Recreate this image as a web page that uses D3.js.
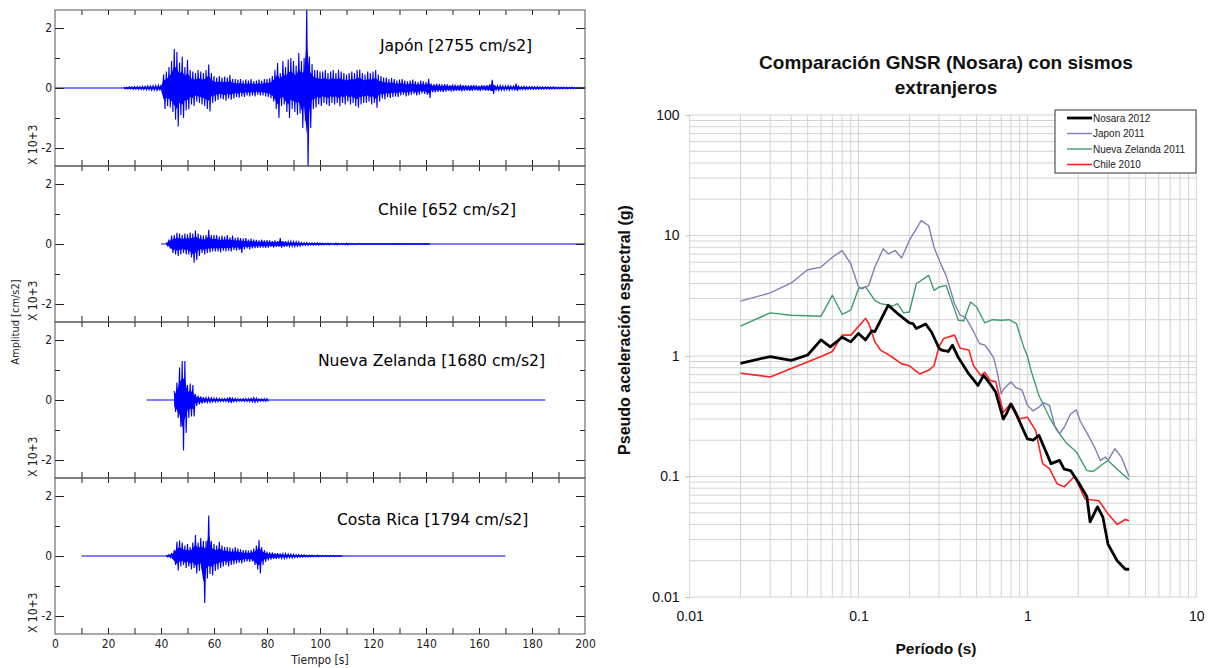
<!DOCTYPE html>
<html>
<head>
<meta charset="utf-8">
<script src="https://cdn.jsdelivr.net/npm/d3@7"></script>
<style>
  body { margin: 0; background: #fff; }
  svg { display: block; }
</style>
</head>
<body>
<svg id="chart" width="1208" height="668"></svg>
<script>
//----------------------------DATA------------------------------//
// Seismograms: envelope, one value per second (x 10^3 cm/s2)
const japonLine = [0, 200];
const japonT0 = 26;
const japonUp = [
  0.03,0.03,0.04,0.04,0.05,0.05,0.05,0.06,0.06,0.07,0.07,0.08,0.08,0.09,0.10,
  0.45,0.55,0.70,0.90,1.30,1.20,0.85,1.05,0.70,0.94,0.60,0.55,0.50,0.60,0.55,0.50,0.60,0.78,0.50,0.40,
  0.35,0.40,0.35,0.38,0.35,0.44,0.30,0.30,0.28,0.30,0.25,0.28,0.25,0.30,0.22,0.25,0.28,0.24,0.30,0.30,
  0.32,0.40,0.60,0.83,0.50,0.90,0.70,0.95,1.00,0.90,0.75,1.17,0.90,1.00,2.76,1.05,0.80,0.60,0.60,0.55,
  0.55,0.60,0.50,0.55,0.60,0.50,0.61,0.55,0.50,0.45,0.50,0.55,0.50,0.60,0.62,0.50,0.45,0.55,0.50,0.55,0.60,0.45,
  0.40,0.35,0.35,0.30,0.33,0.30,0.25,0.28,0.30,0.25,0.22,0.25,0.28,0.22,0.20,0.25,0.22,0.20,
  0.31,
  0.15,0.13,0.15,0.14,0.12,0.13,0.12,0.10,0.12,0.11,0.10,0.12,0.10,0.10,0.09,0.10,0.10,0.09,0.08,0.10,0.09,0.10,0.12,
  0.27,
  0.10,0.08,0.08,0.07,0.07,0.08,0.07,0.06,0.15,
  0.06,0.05,0.06,0.05,0.05,0.05,0.04,0.05,0.04,0.04,0.04,0.04,0.03,0.04,0.03,0.03,0.03,0.03,0.03,0.02,0.03,0.02,0.02,0.02,0.02,0.02
];
const japonLo = [
  0.03,0.03,0.03,0.04,0.04,0.05,0.05,0.05,0.06,0.06,0.07,0.07,0.08,0.08,0.10,
  0.70,0.60,0.65,0.80,1.05,1.28,0.90,1.00,0.75,0.72,0.55,0.60,0.45,0.50,0.55,0.60,0.70,0.78,0.50,0.45,
  0.40,0.35,0.38,0.42,0.35,0.39,0.35,0.30,0.32,0.28,0.30,0.25,0.28,0.25,0.28,0.22,0.25,0.25,0.28,0.30,
  0.35,0.45,0.70,1.00,0.60,0.55,0.80,1.00,0.70,0.80,0.90,0.85,1.33,1.10,2.76,1.33,0.70,0.65,0.55,0.60,
  0.50,0.55,0.60,0.50,0.55,0.50,0.61,0.50,0.55,0.45,0.55,0.50,0.60,0.66,0.55,0.50,0.50,0.45,0.55,0.50,0.66,0.45,
  0.35,0.38,0.30,0.33,0.30,0.28,0.30,0.25,0.22,0.28,0.25,0.22,0.20,0.25,0.22,0.18,0.20,0.22,
  0.33,
  0.14,0.15,0.13,0.12,0.14,0.12,0.10,0.12,0.11,0.10,0.10,0.11,0.10,0.09,0.10,0.10,0.08,0.09,0.10,0.08,0.09,0.10,0.10,
  0.20,
  0.09,0.08,0.07,0.07,0.06,0.07,0.06,0.06,0.10,
  0.05,0.05,0.05,0.05,0.04,0.05,0.04,0.04,0.04,0.04,0.03,0.04,0.03,0.03,0.03,0.03,0.03,0.02,0.03,0.02,0.02,0.02,0.02,0.02,0.02,0.02
];

const chileLine = [40, 200];
const chileT0 = 42;
const chileUp = [
  0.05,0.15,0.28,0.30,0.37,0.35,0.30,0.35,0.32,0.38,0.35,0.45,0.35,0.30,0.28,0.30,0.47,0.30,0.30,
  0.30,0.25,0.28,0.25,0.30,0.22,0.28,0.20,0.22,0.20,0.18,0.20,0.15,0.18,0.15,
  0.14,0.12,0.15,0.12,0.13,0.12,0.10,0.12,0.10,0.20,0.10,0.10,0.08,0.09,0.08,0.08,0.07,
  0.05,0.04,0.05,0.03,0.04,0.03,0.04,0.03,0.03,0.02,0.03,0.02,0.02,0.03,0.02,0.02,0.02,0.03,0.02,0.02,0.02,0.01,0.02,0.02,0.01,0.01,0.02,0.01,0.01,0.01,0.01,0.01,0.01,
  0.01,0.01,0.01,0.01,0.01,0.01,0.01,0.01,0.01,0.01,0.01,0.01,0.01,0.01,0.01,0.01
];
const chileLo = [
  0.05,0.15,0.30,0.35,0.40,0.35,0.30,0.35,0.35,0.45,0.62,0.53,0.40,0.30,0.35,0.30,0.28,0.25,0.25,
  0.25,0.28,0.22,0.25,0.22,0.25,0.20,0.22,0.20,0.30,0.18,0.15,0.18,0.15,0.14,
  0.13,0.12,0.12,0.13,0.12,0.10,0.12,0.10,0.10,0.12,0.10,0.09,0.08,0.08,0.08,0.07,0.07,
  0.05,0.04,0.05,0.03,0.04,0.03,0.04,0.03,0.03,0.02,0.03,0.02,0.02,0.03,0.02,0.02,0.02,0.03,0.02,0.02,0.02,0.01,0.02,0.02,0.01,0.01,0.02,0.01,0.01,0.01,0.01,0.01,0.01,
  0.01,0.01,0.01,0.01,0.01,0.01,0.01,0.01,0.01,0.01,0.01,0.01,0.01,0.01,0.01,0.01
];

const zelandaLine = [34.6, 185];
const zelandaT0 = 45;
const zelandaUp = [
  0.30,0.58,1.08,1.30,1.30,0.50,0.55,0.50,0.20,0.15,0.12,0.10,
  0.08,0.08,0.07,0.06,0.06,0.05,0.05,0.05,0.06,0.10,0.06,0.05,0.04,0.04,0.05,0.05,0.05,0.06,0.08,0.06,0.04,0.04,0.05,0.05
];
const zelandaLo = [
  0.40,0.60,0.90,1.68,1.10,0.60,0.55,0.55,0.20,0.15,0.12,0.10,
  0.08,0.08,0.07,0.06,0.06,0.05,0.05,0.05,0.06,0.10,0.06,0.05,0.04,0.04,0.05,0.05,0.05,0.06,0.08,0.06,0.04,0.04,0.05,0.05
];

const costaLine = [10, 170];
const costaT0 = 42;
const costaUp = [
  0.03,0.05,0.10,0.20,0.47,0.52,0.45,0.35,0.40,0.30,0.45,0.70,0.45,0.60,0.50,0.50,1.35,0.50,0.40,0.35,0.47,
  0.35,0.30,0.30,0.28,0.25,0.30,0.25,0.22,0.20,0.20,0.18,0.20,
  0.25,0.35,0.53,0.30,0.20,0.15,
  0.12,0.12,0.10,0.10,0.09,0.08,0.08,0.07,0.06,0.06,0.05,0.05,0.04,0.04,0.03,
  0.03,0.03,0.02,0.03,0.02,0.02,0.02,0.02,0.01,0.02,0.01,0.01,0.01
];
const costaLo = [
  0.03,0.05,0.10,0.30,0.48,0.35,0.30,0.40,0.35,0.45,0.40,0.58,0.50,0.45,1.57,0.75,0.60,0.65,0.50,0.45,0.40,
  0.35,0.30,0.35,0.30,0.28,0.25,0.22,0.25,0.20,0.18,0.20,0.18,
  0.30,0.45,0.58,0.30,0.20,0.15,
  0.12,0.10,0.10,0.09,0.08,0.08,0.07,0.06,0.06,0.05,0.05,0.04,0.04,0.03,0.03,
  0.03,0.03,0.02,0.03,0.02,0.02,0.02,0.02,0.01,0.02,0.01,0.01,0.01
];

const stationNames = ["Japón [2755 cm/s2]", "Chile [652 cm/s2]", "Nueva Zelanda [1680 cm/s2]", "Costa Rica [1794 cm/s2]"];
const timeTicks = [0, 20, 40, 60, 80, 100, 120, 140, 160, 180, 200];

// Response spectra (period s, pseudo acceleration g)
const nosaraT = [0.02,0.03,0.04,0.05,0.06,0.068,0.08,0.09,0.1,0.11,0.12,0.125,0.15,0.175,0.2,0.21,0.22,0.25,0.27,0.3,
  0.31,0.34,0.36,0.39,0.45,0.51,0.55,0.6,0.65,0.72,0.75,0.8,0.86,0.93,1.0,1.08,1.17,1.28,1.38,1.55,
  1.65,1.8,2.0,2.25,2.35,2.6,2.8,3.0,3.4,3.8,4.0];
const nosaraSa = [0.87,0.99,0.92,1.02,1.36,1.19,1.43,1.31,1.54,1.36,1.62,1.59,2.64,2.18,1.88,1.86,1.69,1.84,1.59,1.16,
  1.12,1.09,1.23,0.97,0.71,0.57,0.69,0.59,0.5,0.3,0.33,0.4,0.33,0.256,0.205,0.2,0.22,0.164,0.128,0.136,
  0.115,0.112,0.09,0.068,0.042,0.056,0.046,0.0275,0.02,0.017,0.017];

const japonT = [0.02,0.03,0.04,0.05,0.06,0.07,0.08,0.09,0.1,0.105,0.115,0.125,0.14,0.15,0.165,0.18,0.2,0.235,0.26,0.28,
  0.31,0.33,0.37,0.4,0.43,0.47,0.52,0.56,0.6,0.63,0.66,0.7,0.72,0.8,0.85,0.93,1.0,1.08,1.17,1.24,
  1.35,1.45,1.55,1.65,1.8,1.95,2.05,2.25,2.5,2.7,2.9,3.0,3.3,3.6,4.0];
const japonSa = [2.85,3.34,4.04,5.2,5.47,6.6,7.5,5.83,3.74,3.6,3.86,5.47,7.76,7.05,7.5,6.5,9.1,13.3,12.1,8.0,
  5.6,4.67,2.73,2.18,2.1,1.69,1.27,1.23,1.08,0.97,0.76,0.485,0.53,0.61,0.55,0.52,0.39,0.35,0.376,0.41,
  0.39,0.265,0.227,0.255,0.33,0.357,0.29,0.23,0.175,0.136,0.145,0.136,0.17,0.145,0.1];

const zelandaT = [0.02,0.03,0.04,0.06,0.07,0.08,0.09,0.1,0.11,0.125,0.135,0.16,0.17,0.185,0.2,0.22,0.26,0.28,0.3,0.33,
  0.36,0.39,0.42,0.46,0.5,0.56,0.62,0.7,0.78,0.86,0.95,1.0,1.05,1.17,1.35,1.5,1.7,1.95,2.25,2.45,
  2.8,3.0,3.4,4.0];
const zelandaSa = [1.77,2.28,2.18,2.14,3.19,2.22,2.4,3.62,3.74,2.9,2.72,2.6,2.72,2.28,2.32,3.98,4.67,3.51,3.74,3.86,
  2.72,1.98,1.96,2.81,2.56,1.88,2.0,1.98,2.0,1.86,1.19,1.0,0.76,0.47,0.31,0.24,0.19,0.16,0.112,0.11,
  0.127,0.136,0.115,0.094];

const chileT = [0.02,0.03,0.06,0.07,0.08,0.09,0.11,0.115,0.125,0.135,0.155,0.18,0.2,0.23,0.26,0.28,0.3,0.32,0.37,0.4,
  0.45,0.48,0.53,0.56,0.6,0.65,0.72,0.79,0.88,1.0,1.12,1.23,1.35,1.5,1.65,1.9,2.2,2.65,3.0,3.4,
  3.8,4.0];
const chileSa = [0.72,0.67,0.99,1.09,1.49,1.49,2.05,1.86,1.31,1.12,1.0,0.86,0.83,0.71,0.76,0.83,1.2,1.4,1.49,1.16,
  1.12,0.83,0.69,0.73,0.63,0.61,0.34,0.4,0.3,0.31,0.24,0.128,0.116,0.087,0.082,0.1,0.065,0.063,0.049,0.04,
  0.044,0.043];

const spectraNames = ["Nosara 2012", "Japon 2011", "Nueva Zelanda 2011", "Chile 2010"];
const periodTicks = [0.01, 0.1, 1, 10];
const accelTicks = [0.01, 0.1, 1, 10, 100];

//-------------------------1. LEFT: SEISMOGRAMS-------------------------//
const svg = d3.select("#chart");
const narrow = "'Liberation Sans Narrow','DejaVu Sans Condensed','Arial Narrow',sans-serif";

const stations = [
  { t0: japonT0, line: japonLine, up: japonUp, lo: japonLo, lab: [122.6, 1.24] },
  { t0: chileT0, line: chileLine, up: chileUp, lo: chileLo, lab: [121.9, 0.97] },
  { t0: zelandaT0, line: zelandaLine, up: zelandaUp, lo: zelandaLo, lab: [99.2, 1.13] },
  { t0: costaT0, line: costaLine, up: costaUp, lo: costaLo, lab: [106.4, 1.03] }
];

const xTime = d3.scaleLinear().domain([0, 200]).range([55, 585]);
const panelTop = 10;
const panelH = 156;

stations.forEach((s, i) => {
  const top = panelTop + i * panelH;
  const yAmp = d3.scaleLinear().domain([-2.6, 2.6]).range([top + panelH, top]);
  const g = svg.append("g");

  svg.append("clipPath").attr("id", "clip" + i)
    .append("rect")
    .attr("x", xTime(0)).attr("y", top)
    .attr("width", xTime(200) - xTime(0)).attr("height", panelH);

  const trace = g.append("g").attr("clip-path", "url(#clip" + i + ")");

  // baseline of the record
  trace.append("line")
    .attr("x1", xTime(s.line[0])).attr("x2", xTime(s.line[1]))
    .attr("y1", yAmp(0)).attr("y2", yAmp(0))
    .attr("stroke", "#0000ff").attr("stroke-width", 1.2);

  // filled band between the envelopes
  const env = s.up.map((u, k) => ({ t: s.t0 + k, up: u, lo: s.lo[k] }));
  const band = d3.area()
    .x(d => xTime(d.t))
    .y0(d => yAmp(-d.lo * 0.55))
    .y1(d => yAmp(d.up * 0.55));
  trace.append("path")
    .attr("d", band(env))
    .attr("fill", "#0000ff").attr("stroke", "none");

  // dense trace drawn as a zigzag between the two envelopes
  const pts = [];
  env.forEach(d => {
    pts.push([d.t, d.up]);
    pts.push([d.t + 0.5, -d.lo]);
  });
  const line = d3.line().x(d => xTime(d[0])).y(d => yAmp(d[1]));
  trace.append("path")
    .attr("d", line(pts))
    .attr("fill", "none")
    .attr("stroke", "#0000ff")
    .attr("stroke-width", 1.1);

  // axes
  const styleAxis = sel => {
    sel.select(".domain").remove();
    sel.selectAll("line").attr("stroke", "#222");
    sel.selectAll("text").attr("font-family", narrow).attr("font-size", 12).attr("fill", "#222");
  };
  g.append("g").attr("transform", "translate(" + xTime(0) + ",0)")
    .call(d3.axisLeft(yAmp).tickValues([-2, 0, 2]).tickSize(-9).tickPadding(3).tickFormat(d => String(d)))
    .call(styleAxis);
  g.append("g").attr("transform", "translate(" + xTime(0) + ",0)")
    .call(d3.axisLeft(yAmp).tickValues([-1, 1]).tickSize(-5).tickFormat(""))
    .call(styleAxis);
  g.append("g").attr("transform", "translate(" + xTime(200) + ",0)")
    .call(d3.axisRight(yAmp).tickValues([-2, 0, 2]).tickSize(-9).tickFormat(""))
    .call(styleAxis);
  g.append("g").attr("transform", "translate(" + xTime(200) + ",0)")
    .call(d3.axisRight(yAmp).tickValues([-1, 1]).tickSize(-5).tickFormat(""))
    .call(styleAxis);
  g.append("g").attr("transform", "translate(0," + top + ")")
    .call(d3.axisTop(xTime).tickValues(d3.range(10, 200, 10)).tickSize(-5).tickFormat(""))
    .call(styleAxis);
  const bottom = g.append("g").attr("transform", "translate(0," + (top + panelH) + ")");
  bottom.call(d3.axisBottom(xTime).tickValues(d3.range(10, 200, 10)).tickSize(-6).tickFormat(""))
    .call(styleAxis);
  if (i === stations.length - 1) {
    bottom.append("g")
      .call(d3.axisBottom(xTime).tickValues(timeTicks).tickSize(0).tickPadding(5))
      .call(styleAxis);
  }

  g.append("rect")
    .attr("x", xTime(0)).attr("y", top)
    .attr("width", xTime(200) - xTime(0)).attr("height", panelH)
    .attr("fill", "none").attr("stroke", "#555").attr("stroke-width", 1);

  // exponent note
  g.append("text")
    .attr("transform", "translate(37," + (top + panelH - 1) + ") rotate(-90)")
    .attr("font-family", narrow).attr("font-size", 12).attr("fill", "#222")
    .text("X 10+3");

  // station label
  g.append("text")
    .attr("x", xTime(s.lab[0])).attr("y", yAmp(s.lab[1]))
    .attr("font-family", "'DejaVu Sans',sans-serif").attr("font-size", 15.6).attr("fill", "#000")
    .text(stationNames[i]);
});

svg.append("text")
  .attr("transform", "translate(19," + (panelTop + 2 * panelH) + ") rotate(-90)")
  .attr("text-anchor", "middle")
  .attr("font-family", narrow).attr("font-size", 11).attr("fill", "#222")
  .text("Amplitud  [cm/s2]");

svg.append("text")
  .attr("x", (xTime(0) + xTime(200)) / 2).attr("y", 664)
  .attr("text-anchor", "middle")
  .attr("font-family", narrow).attr("font-size", 12).attr("fill", "#222")
  .text("Tiempo  [s]");

//-------------------------2. RIGHT: SPECTRA----------------------------//
const xPer = d3.scaleLog().domain([0.01, 10]).range([689.6, 1196.3]);
const ySa = d3.scaleLog().domain([0.01, 100]).range([597, 115]);
const arial = "'Liberation Sans',Arial,sans-serif";

const grid = svg.append("g").attr("stroke", "#d4d4d4").attr("stroke-width", 1);
grid.selectAll(".gx").data(xPer.ticks()).enter().append("line")
  .attr("x1", d => xPer(d)).attr("x2", d => xPer(d))
  .attr("y1", ySa(100)).attr("y2", ySa(0.01));
grid.selectAll(".gy").data(ySa.ticks()).enter().append("line")
  .attr("x1", xPer(0.01)).attr("x2", xPer(10))
  .attr("y1", d => ySa(d)).attr("y2", d => ySa(d));

svg.append("g").attr("transform", "translate(" + xPer(0.01) + ",0)")
  .call(d3.axisLeft(ySa).tickValues(accelTicks).tickSize(4).tickPadding(6).tickFormat(d => String(d)))
  .call(sel => {
    sel.select(".domain").remove();
    sel.selectAll("line").attr("stroke", "#bbb");
    sel.selectAll("text").attr("font-family", arial).attr("font-size", 14).attr("fill", "#111");
  });

svg.append("g").attr("transform", "translate(0," + ySa(0.01) + ")")
  .call(d3.axisBottom(xPer).tickValues(periodTicks).tickSize(0).tickPadding(14).tickFormat(d => String(d)))
  .call(sel => {
    sel.select(".domain").remove();
    sel.selectAll("text").attr("font-family", arial).attr("font-size", 14).attr("fill", "#111");
  });

const spectra = [
  { T: chileT, Sa: chileSa, color: "#ff2222", width: 1.6 },
  { T: zelandaT, Sa: zelandaSa, color: "#3f9d6c", width: 1.4 },
  { T: japonT, Sa: japonSa, color: "#7f7fb5", width: 1.4 },
  { T: nosaraT, Sa: nosaraSa, color: "#000000", width: 2.8 }
];
const specLine = d3.line().x(d => xPer(d[0])).y(d => ySa(d[1]));
spectra.forEach(s => {
  svg.append("path")
    .attr("d", specLine(s.T.map((t, k) => [t, s.Sa[k]])))
    .attr("fill", "none")
    .attr("stroke", s.color)
    .attr("stroke-width", s.width)
    .attr("stroke-linejoin", "round");
});

// title
const title = svg.append("text")
  .attr("text-anchor", "middle")
  .attr("font-family", arial).attr("font-size", 19).attr("font-weight", "bold").attr("fill", "#111");
title.append("tspan").attr("x", 946).attr("y", 69).text("Comparación GNSR (Nosara) con sismos");
title.append("tspan").attr("x", 946).attr("y", 94).text("extranjeros");

svg.append("text")
  .attr("x", 936).attr("y", 654)
  .attr("text-anchor", "middle")
  .attr("font-family", arial).attr("font-size", 15.5).attr("font-weight", "bold").attr("fill", "#111")
  .text("Período (s)");

svg.append("text")
  .attr("transform", "translate(630,330) rotate(-90)")
  .attr("text-anchor", "middle")
  .attr("font-family", arial).attr("font-size", 16).attr("font-weight", "bold").attr("fill", "#111")
  .text("Pseudo aceleración espectral (g)");

// legend
const legendOrder = [3, 2, 1, 0];
const legend = svg.append("g").attr("transform", "translate(1055,110)");
legend.append("rect")
  .attr("width", 141).attr("height", 63)
  .attr("fill", "#fff").attr("stroke", "#333").attr("stroke-width", 1);
legendOrder.forEach((si, r) => {
  const s = spectra[si];
  const yy = 8 + r * 15.5;
  legend.append("line")
    .attr("x1", 12).attr("x2", 37).attr("y1", yy).attr("y2", yy)
    .attr("stroke", s.color).attr("stroke-width", s.width);
  legend.append("text")
    .attr("x", 38).attr("y", yy).attr("dy", "0.35em")
    .attr("font-family", arial).attr("font-size", 10).attr("fill", "#222")
    .text(spectraNames[r]);
});
</script>
</body>
</html>
